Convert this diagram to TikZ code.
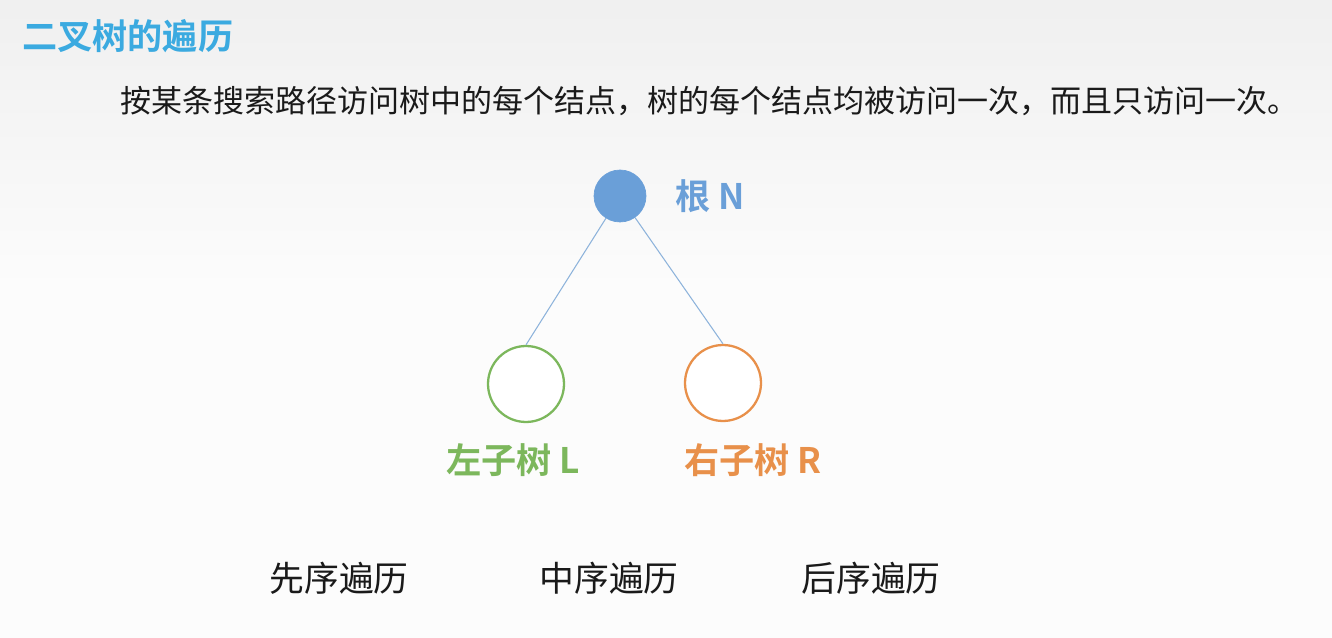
\documentclass[tikz,border=0pt]{standalone}
\usepackage{fontspec}
\setmainfont{Noto Sans CJK SC}
\newfontfamily\cjkbold{Noto Sans CJK SC Bold}
\usetikzlibrary{positioning}
\definecolor{TravTitle}{HTML}{3BAAE0}
\definecolor{TravInk}{HTML}{1A1A1A}
\definecolor{TravBlue}{HTML}{6A9FD8}
\definecolor{TravEdge}{HTML}{8DB3DB}
\definecolor{TravGreen}{HTML}{7CB75C}
\definecolor{TravOrange}{HTML}{E8904A}
\tikzset{
  trav/text/.style={inner sep=0pt, text=TravInk, font=\fontsize{17.65}{20}\selectfont},
  trav/title/.style={inner sep=0pt, text=TravTitle, font=\cjkbold\fontsize{20}{22}\selectfont},
  trav/label/.style={inner sep=0pt, font=\cjkbold\fontsize{20}{22}\selectfont},
  trav/order/.style={trav/text, font=\fontsize{19.8}{22}\selectfont},
  trav/root/.style={circle, fill=TravBlue, draw=TravBlue, minimum size=1.04cm, inner sep=0pt},
  trav/child/.style={circle, line width=1.3pt, fill=white, minimum size=1.52cm, inner sep=0pt},
  trav/edge/.style={draw=TravEdge, line width=.6pt}
}
\begin{document}
\begin{tikzpicture}[x=0.02cm,y=-0.02cm]
  \useasboundingbox (0,0) rectangle (1332,638);
  \shade[top color=black!6, bottom color=black!1] (0,0) rectangle (1332,300);
  \fill[black!1] (0,300) rectangle (1332,638);
  \node[trav/title,anchor=west] (title) at (22,36) {二叉树的遍历};
  \node[trav/text,anchor=west] (intro) at (120,101)
    {按某条搜索路径访问树中的每个结点，树的每个结点均被访问一次，而且只访问一次。};
  % the tree
  \node[trav/root] (root) at (620,196) {};
  \node[trav/label,text=TravBlue,anchor=west,right=0.58cm of root] (rootlab) {根 N};
  \node[trav/child,draw=TravGreen] (left) at (526,384) {};
  \node[trav/child,draw=TravOrange] (right) at (723,383) {};
  \draw[trav/edge] (root) -- (left.north);
  \draw[trav/edge] (root) -- (right.north);
  \node[trav/label,text=TravGreen] (leftlab) at (513,460) {左子树 L};
  \node[trav/label,text=TravOrange] (rightlab) at (753,460) {右子树 R};
  % the three orders
  \foreach \x/\name/\lab in {339/pre/先序遍历,609/in/中序遍历,871/post/后序遍历}
    \node[trav/order] (\name) at (\x,578) {\lab};
\end{tikzpicture}
\end{document}
